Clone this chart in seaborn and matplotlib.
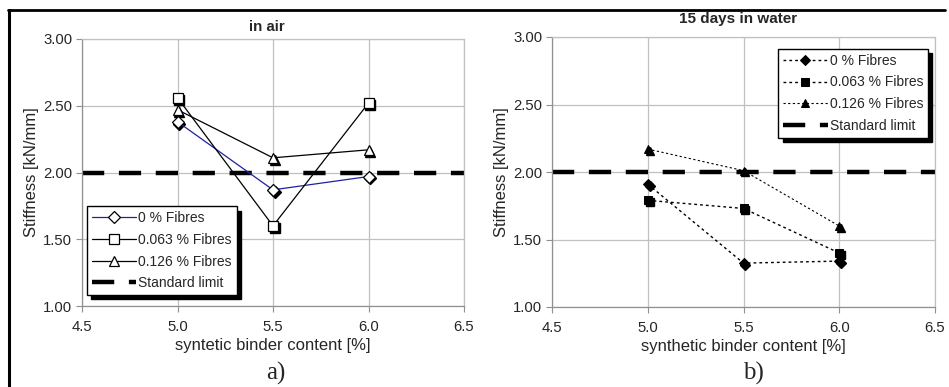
import matplotlib
matplotlib.use('Agg')
import matplotlib.pyplot as plt
import matplotlib.transforms as mtransforms
from matplotlib.lines import Line2D
import seaborn as sns

# data
binder = [5.0, 5.5, 6.0]
air_0 = [2.38, 1.87, 1.97]
air_063 = [2.56, 1.60, 2.52]
air_126 = [2.47, 2.11, 2.17]
water_0 = [1.91, 1.325, 1.34]
water_063 = [1.79, 1.73, 1.40]
water_126 = [2.17, 2.01, 1.60]
standard_limit = 2.0
series_labels = ['0 % Fibres', '0.063 % Fibres', '0.126 % Fibres', 'Standard limit']

sns.set_style('white')
plt.rcParams['font.family'] = ['Liberation Sans', 'DejaVu Sans']
plt.rcParams['font.size'] = 10

fig = plt.figure(figsize=(9.49, 3.87), dpi=100)
ax1 = fig.add_axes([82 / 949, 1 - 306 / 387, 382 / 949, 267 / 387])
ax2 = fig.add_axes([552 / 949, 1 - 307 / 387, 383 / 949, 270 / 387])


def shadow_markers(ax, y, marker, ms):
    off = mtransforms.ScaledTranslation(1.3 / 72, -1.3 / 72, fig.dpi_scale_trans)
    ax.plot(binder, y, linestyle='none', marker=marker, ms=ms, color='black',
            transform=ax.transData + off, zorder=2.5)


def style_axes(ax):
    ax.set_xlim(4.5, 6.5)
    ax.set_ylim(1.0, 3.0)
    ax.set_xticks([4.5, 5.0, 5.5, 6.0, 6.5])
    ax.set_yticks([1.0, 1.5, 2.0, 2.5, 3.0])
    ax.set_xticklabels(['4.5', '5.0', '5.5', '6.0', '6.5'])
    ax.set_yticklabels(['1.00', '1.50', '2.00', '2.50', '3.00'])
    ax.grid(True, color='#c0c0c0', lw=0.9)
    for s in ax.spines.values():
        s.set_color('#c0c0c0')
        s.set_linewidth(0.9)
    ax.spines['left'].set_color('#909090')
    ax.spines['bottom'].set_color('#909090')
    ax.tick_params(axis='both', direction='out', length=4, width=0.8,
                   color='#909090', labelsize=10.7, pad=3, bottom=True, left=True)
    ax.tick_params(axis='x', pad=6)
    ax.set_ylabel('Stiffness [kN/mm]', fontsize=12, labelpad=3)


# in air
for y, m, c in [(air_0, 'D', '#2020a0'), (air_063, 's', 'black'), (air_126, '^', 'black')]:
    shadow_markers(ax1, y, m, 7.5 if m != 'D' else 6.5)
for y, m, c, lab in [(air_0, 'D', '#2020a0', series_labels[0]),
                     (air_063, 's', 'black', series_labels[1]),
                     (air_126, '^', 'black', series_labels[2])]:
    sns.lineplot(x=binder, y=y, ax=ax1, color=c, lw=0.9, marker=m,
                 ms=7.5 if m != 'D' else 6.5, markerfacecolor='white',
                 markeredgecolor='black', markeredgewidth=0.9, label=lab, zorder=3)
ax1.axhline(standard_limit, color='black', lw=3.2, dashes=(5, 3.3), label=series_labels[3], zorder=2)

# 15 days in water
for y, m in [(water_0, 'D'), (water_063, 's'), (water_126, '^')]:
    shadow_markers(ax2, y, m, 5.5 if m != 'D' else 5)
for y, m, lw, lab in [(water_0, 'D', 1.0, series_labels[0]),
                      (water_063, 's', 1.0, series_labels[1]),
                      (water_126, '^', 0.8, series_labels[2])]:
    sns.lineplot(x=binder, y=y, ax=ax2, color='black', lw=lw, dashes=(2, 2.2), marker=m,
                 ms=5.5 if m != 'D' else 5, markerfacecolor='black',
                 markeredgecolor='black', label=lab, zorder=3)
ax2.axhline(standard_limit, color='black', lw=3.2, dashes=(5, 3.3), label=series_labels[3], zorder=2)

for ax in (ax1, ax2):
    style_axes(ax)

ax1.set_xlabel('syntetic binder content [%]', fontsize=12, labelpad=3)
ax2.set_xlabel('synthetic binder content [%]', fontsize=12, labelpad=3)

leg_kw = dict(frameon=True, fancybox=False, edgecolor='black', framealpha=1,
              fontsize=10, handlelength=3.2, handletextpad=0.15, labelspacing=0.55,
              borderpad=0.35, borderaxespad=0,
              shadow={'ox': 3, 'oy': -3, 'color': 'black', 'alpha': 1})
l1 = ax1.legend(loc='lower left', bbox_to_anchor=(0.013, 0.041), **leg_kw)
l2 = ax2.legend(loc='upper right', bbox_to_anchor=(0.982, 0.956), **leg_kw)
for l in (l1, l2):
    l.get_frame().set_linewidth(1.0)
    l.set_zorder(5)

fig.text(267 / 949, 1 - 27 / 387, 'in air', ha='center', va='center', fontsize=10.8, fontweight='bold')
fig.text(738 / 949, 1 - 19 / 387, '15 days in water', ha='center', va='center', fontsize=11, fontweight='bold')
fig.text(276 / 949, 1 - 373 / 387, 'a)', ha='center', va='center', fontsize=18, family='Liberation Serif')
fig.text(753 / 949, 1 - 373 / 387, 'b)', ha='center', va='center', fontsize=18, family='Liberation Serif')

# outer frame (top and left edges)
fig.add_artist(Line2D([8 / 949, 945 / 949], [1 - 10 / 387] * 2, transform=fig.transFigure, color='black', lw=2))
fig.add_artist(Line2D([9 / 949] * 2, [1 - 10 / 387, 0], transform=fig.transFigure, color='black', lw=2.2))

fig.savefig('out.png', dpi=100)
